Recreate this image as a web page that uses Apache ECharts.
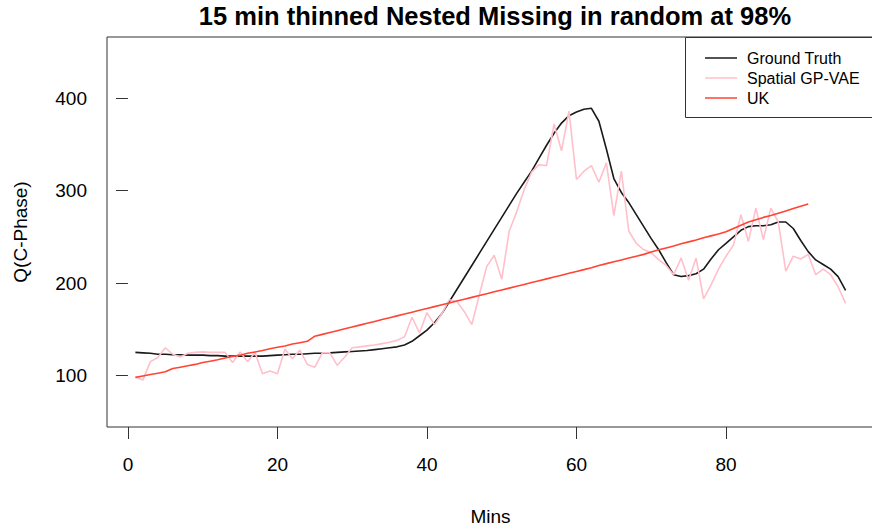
<!DOCTYPE html>
<html>
<head>
<meta charset="utf-8">
<script src="https://cdn.jsdelivr.net/npm/echarts@6/dist/echarts.min.js"></script>
<style>
html,body{margin:0;padding:0;background:#fff;}
#chart{width:872px;height:531px;}
</style>
</head>
<body>
<div id="chart"></div>
<script>
// ---- data ----
const mins = [];
for (let i = 1; i <= 96; i++) mins.push(i);

const groundTruth = [
  125,124.5,124,123,123,122.5,122.5,122,122,122,
  121.5,121.5,121,121,121,121,121,121,121.5,122,
  122.5,123,123,123.5,124,124,124.5,125,125.5,126,
  126.5,127,128,129,130,131,133,137,143,149,
  157,167,180,193,206,219,232,245,258,271,
  284,297,309,321,335,349,362,373,381,385,
  388,389,375,345,313,298,287,274,261,248,
  236,222,209,207,208,210,215,226,236,243,
  250,257,261,262,262,263,266,266,259,246,
  234,225,220,215,207,192
];

const spatialGPVAE = [
  98,95,115,119.5,130,123,120,124,125,125.5,
  125,125,125,114,125.5,115,125,102,105,102,
  128.5,118,127.5,112,109,124.5,124.5,111,120,130,
  131,132,133,134.5,136,138,142,163,146,168,
  155,167,182,180,169,155,187,218,230,204,
  256,277,301,320,328,327,372,343,386,312,
  321,327,309,330,273,321,256,243,236,233,
  225,219,209,227,203,227,183,198,215,229,
  241,274,245,281,247,281,266,213,229,226,
  231,209,215,209,196,178
];

const ukMins = [];
for (let i = 1; i <= 91; i++) ukMins.push(i);
const uk = [
  98,99.5,101,102.5,104,107.5,109,110.5,112,114,
  115.5,117,119,120.5,122,124,125.5,127,129,130.5,
  132,134,135.5,137,142.5,144.5,146.5,148.5,150.5,152.5,
  154.5,156.5,158.5,160.5,162.5,164.5,166.5,168.5,170.5,172.5,
  174.5,176.5,178.5,180.5,182.5,184.5,186.5,188.5,190.5,192.5,
  194.5,196.5,198.5,200.5,202.5,204.5,206.5,208.5,210.5,212.5,
  214.5,216.5,219,221,223,225,227,229,231,233.5,
  236,238,240,242.5,244.5,246.5,249,251,253,255.5,
  259,262.5,266,268.5,271,273,275.5,278,280.5,283,285.5
];

const xTicks = [0, 20, 40, 60, 80];
const yTicks = [100, 200, 300, 400];

const seriesNames = ['Ground Truth', 'Spatial GP-VAE', 'UK'];
const seriesColors = ['#1a1a1a', '#ffc0cb', '#ff4433'];

function pairs(xs, ys) { return xs.map((x, i) => [x, ys[i]]); }

const FONT = '"Liberation Sans", Arial, Helvetica, sans-serif';

const chart = echarts.init(document.getElementById('chart'), null, {renderer: 'svg'});
chart.setOption({
  animation: false,
  backgroundColor: '#ffffff',
  textStyle: {fontFamily: FONT},
  title: {
    text: '15 min thinned Nested Missing in random at 98%',
    left: 490,
    textAlign: 'center',
    top: -2,
    textStyle: {fontFamily: FONT, fontSize: 25.5, fontWeight: 'bold', color: '#000'}
  },
  grid: {
    left: 107, top: 37, width: 767, height: 390,
    show: true, borderColor: '#333', borderWidth: 1,
    containLabel: false, outerBoundsMode: 'none'
  },
  legend: {
    orient: 'vertical',
    left: 700, top: 43,
    itemWidth: 32, itemHeight: 1.5, itemGap: 0,
    icon: 'rect',
    data: seriesNames,
    textStyle: {fontFamily: FONT, fontSize: 16, color: '#000', lineHeight: 20, padding: [0, 0, 0, 5]}
  },
  graphic: [{
    type: 'rect', z: 0,
    shape: {x: 685.5, y: 37.5, width: 220, height: 80},
    style: {fill: '#fff', stroke: '#333', lineWidth: 1}
  }],
  xAxis: {
    type: 'value', min: -2.8, max: 99.8,
    name: 'Mins', nameLocation: 'middle', nameGap: 80,
    nameTextStyle: {fontFamily: FONT, fontSize: 19, color: '#000'},
    splitLine: {show: false},
    axisLine: {show: false},
    axisTick: {show: true, inside: false, length: 12, customValues: xTicks, lineStyle: {color: '#333'}},
    axisLabel: {customValues: xTicks, margin: 28, fontFamily: FONT, fontSize: 19, color: '#000'}
  },
  yAxis: {
    type: 'value', min: 44.3, max: 466.1,
    name: 'Q(C-Phase)', nameLocation: 'middle', nameRotate: 90, nameGap: 77,
    nameTextStyle: {fontFamily: FONT, fontSize: 19, color: '#000'},
    splitLine: {show: false},
    axisLine: {show: false},
    axisTick: {show: true, inside: false, length: 12, customValues: yTicks, lineStyle: {color: '#333'}},
    axisLabel: {customValues: yTicks, margin: 20, fontFamily: FONT, fontSize: 19, color: '#000'}
  },
  series: [
    {name: seriesNames[0], type: 'line', data: pairs(mins, groundTruth), symbol: 'none',
     lineStyle: {color: seriesColors[0], width: 1.6}, itemStyle: {color: seriesColors[0]}, z: 2},
    {name: seriesNames[1], type: 'line', data: pairs(mins, spatialGPVAE), symbol: 'none',
     lineStyle: {color: seriesColors[1], width: 1.6}, itemStyle: {color: seriesColors[1]}, z: 3},
    {name: seriesNames[2], type: 'line', data: pairs(ukMins, uk), symbol: 'none',
     lineStyle: {color: seriesColors[2], width: 1.6}, itemStyle: {color: seriesColors[2]}, z: 4}
  ]
});
</script>
</body>
</html>
